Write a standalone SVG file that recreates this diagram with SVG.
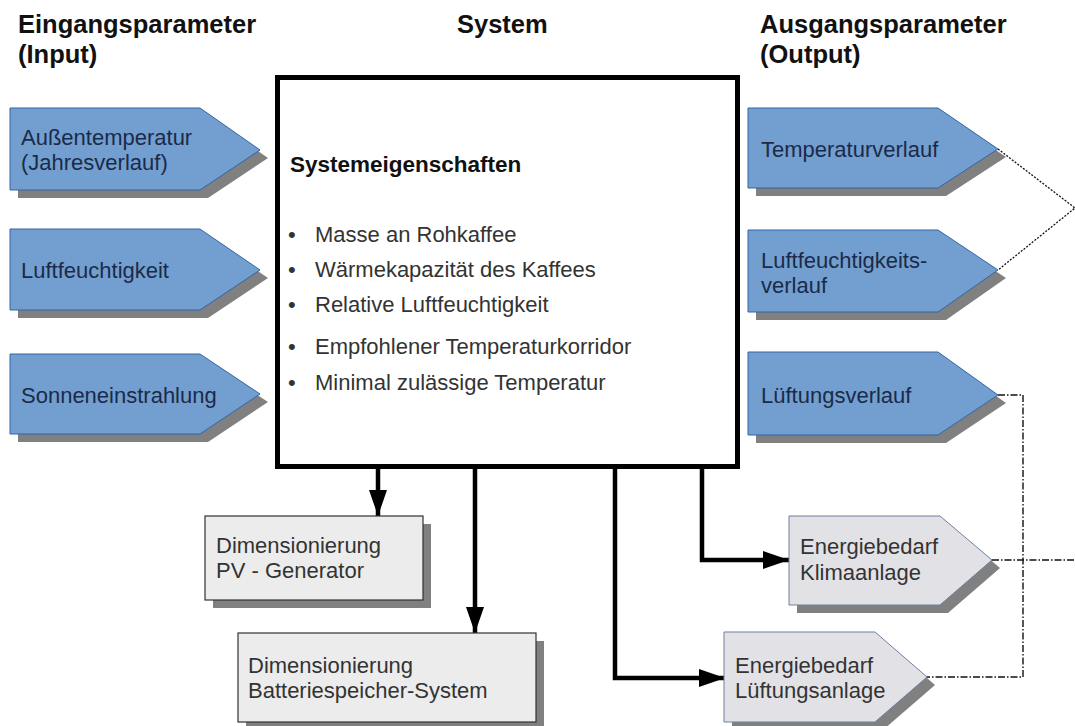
<svg xmlns="http://www.w3.org/2000/svg" width="1075" height="726" viewBox="0 0 1075 726">
<style>
text{font-family:"Liberation Sans",Arial,sans-serif;}
.hdr{font-size:25.5px;font-weight:bold;fill:#111;}
.blue{fill:#729fcf;stroke:#3465a4;stroke-width:1;}
.grayp{fill:#e2e2e6;stroke:#6f7f9f;stroke-width:1;}
.box{fill:#ececec;stroke:#333;stroke-width:1.2;}
.sh{fill:#808080;}
.bt{font-size:22px;fill:#1c2a4a;}
.gt{font-size:22px;fill:#333;}
.lt{font-size:22px;fill:#333;}
.conn{fill:none;stroke:#000;stroke-width:4.5;}
.dot{fill:none;stroke:#111;stroke-width:1.3;stroke-dasharray:2 1.5;}
.dd{fill:none;stroke:#111;stroke-width:1.4;stroke-dasharray:7 2 1.5 2;}
</style>
<defs>
<marker id="ah" markerUnits="userSpaceOnUse" markerWidth="26" markerHeight="18" refX="26" refY="9" orient="auto">
<path d="M0,0 L26,9 L0,18 Z" fill="#000"/>
</marker>
</defs>

<g id="headers">
<text class="hdr" x="18" y="33">Eingangsparameter</text>
<text class="hdr" x="18" y="63">(Input)</text>
<text class="hdr" x="457" y="33">System</text>
<text class="hdr" x="760" y="33">Ausgangsparameter</text>
<text class="hdr" x="760" y="63">(Output)</text>
</g>

<g id="connectors">
<line class="conn" x1="378" y1="469" x2="378" y2="516" marker-end="url(#ah)"/>
<line class="conn" x1="475" y1="469" x2="475" y2="633" marker-end="url(#ah)"/>
<polyline class="conn" points="702,469 702,560 789,560" marker-end="url(#ah)"/>
<polyline class="conn" points="615,469 615,678 725,678" marker-end="url(#ah)"/>
<polyline class="dot" points="998,149 1075,208 998,270"/>
<polyline class="dd" points="998,395 1023,395 1023,677 927,677"/>
<line class="dd" x1="992" y1="560" x2="1075" y2="560"/>
</g>

<g id="in-aussentemperatur">
<polygon class="sh" points="18,116 208,116 268,158 208,198 18,198"/>
<polygon class="blue" points="10,108 200,108 260,150 200,190 10,190"/>
<text class="bt" x="21" y="145">Außentemperatur</text>
<text class="bt" x="21" y="170">(Jahresverlauf)</text>
</g>
<g id="in-luftfeuchtigkeit">
<polygon class="sh" points="18,237 208,237 268,278 208,318 18,318"/>
<polygon class="blue" points="10,229 200,229 260,270 200,310 10,310"/>
<text class="bt" x="21" y="278">Luftfeuchtigkeit</text>
</g>
<g id="in-sonneneinstrahlung">
<polygon class="sh" points="18,362 208,362 268,402 208,442 18,442"/>
<polygon class="blue" points="10,354 200,354 260,394 200,434 10,434"/>
<text class="bt" x="21" y="403">Sonneneinstrahlung</text>
</g>

<g id="system">
<rect x="277.5" y="77.5" width="460" height="389" fill="#fff" stroke="#000" stroke-width="5"/>
<text x="290" y="172" style="font-size:22.5px;font-weight:bold;fill:#111;">Systemeigenschaften</text>
<g class="lt">
<text x="288" y="242">•</text><text x="315" y="242">Masse an Rohkaffee</text>
<text x="288" y="277">•</text><text x="315" y="277">Wärmekapazität des Kaffees</text>
<text x="288" y="312">•</text><text x="315" y="312">Relative Luftfeuchtigkeit</text>
<text x="288" y="354">•</text><text x="315" y="354">Empfohlener Temperaturkorridor</text>
<text x="288" y="390">•</text><text x="315" y="390">Minimal zulässige Temperatur</text>
</g>
</g>

<g id="out-temperaturverlauf">
<polygon class="sh" points="756,116 946,116 1006,157 946,196 756,196"/>
<polygon class="blue" points="748,108 938,108 998,149 938,188 748,188"/>
<text class="bt" x="761" y="157">Temperaturverlauf</text>
</g>
<g id="out-luftfeuchtigkeitsverlauf">
<polygon class="sh" points="756,238 946,238 1006,278 946,320 756,320"/>
<polygon class="blue" points="748,230 938,230 998,270 938,312 748,312"/>
<text class="bt" x="761" y="268">Luftfeuchtigkeits-</text>
<text class="bt" x="761" y="293">verlauf</text>
</g>
<g id="out-lueftungsverlauf">
<polygon class="sh" points="756,360 946,360 1006,403 946,443 756,443"/>
<polygon class="blue" points="748,352 938,352 998,395 938,435 748,435"/>
<text class="bt" x="761" y="403">Lüftungsverlauf</text>
</g>

<g id="energie-klima">
<polygon class="sh" points="797,524 948,524 1000,568 948,613 797,613"/>
<polygon class="grayp" points="789,516 940,516 992,560 940,605 789,605"/>
<text class="gt" x="800" y="554">Energiebedarf</text>
<text class="gt" x="800" y="580">Klimaanlage</text>
</g>
<g id="energie-lueftung">
<polygon class="sh" points="732,640 883,640 935,685 883,730 732,730"/>
<polygon class="grayp" points="724,632 875,632 927,677 875,722 724,722"/>
<text class="gt" x="735" y="673">Energiebedarf</text>
<text class="gt" x="735" y="698">Lüftungsanlage</text>
</g>

<g id="pv-generator">
<rect class="sh" x="213" y="524" width="218" height="84"/>
<rect class="box" x="205" y="516" width="218" height="84"/>
<text class="gt" x="216" y="553">Dimensionierung</text>
<text class="gt" x="216" y="578">PV - Generator</text>
</g>
<g id="batteriespeicher">
<rect class="sh" x="246" y="641" width="298" height="89"/>
<rect class="box" x="238" y="633" width="298" height="89"/>
<text class="gt" x="248" y="673">Dimensionierung</text>
<text class="gt" x="248" y="698">Batteriespeicher-System</text>
</g>
</svg>
